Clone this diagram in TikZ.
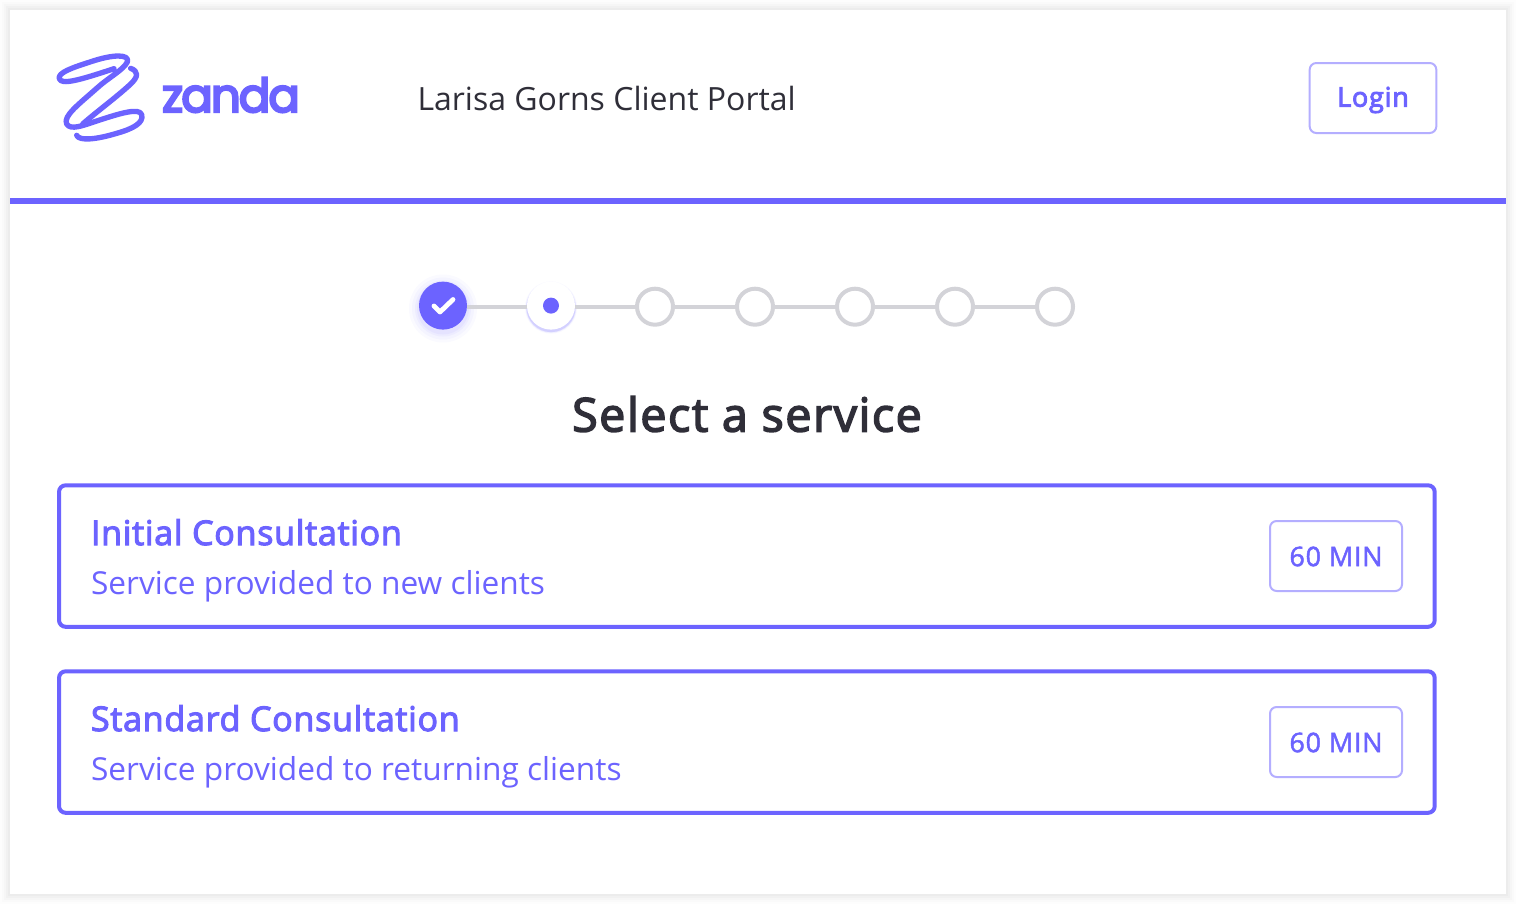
\documentclass[tikz,border=0pt]{standalone}
\usepackage{fontspec}
\setmainfont{Open Sans}
\newfontfamily\logof{Poppins}
\newcommand{\emb}[2]{\special{pdf:code q 2 Tr #1 w}#2\special{pdf:code Q}}
\usetikzlibrary{calc}
\definecolor{brand}{HTML}{6C63FF}
\definecolor{softb}{HTML}{B4AEFF}
\definecolor{ink}{HTML}{2F2E38}
\definecolor{track}{HTML}{D3D3D8}
\tikzset{
  x=0.75pt,y=-0.75pt,
  every node/.style={inner sep=0pt,outer sep=0pt},
  card/.style={draw=brand,line width=3pt,rounded corners=5pt,fill=white},
  badge/.style={draw=softb,line width=1.5pt,rounded corners=5pt,fill=white,text=brand},
  opendot/.style={circle,draw=track,line width=3pt,fill=white,minimum size=27pt},
  link/.style={draw=track,line width=3pt},
  logostroke/.style={draw=brand,line width=4pt,line cap=round,line join=round},
  cardhead/.style={anchor=base west,text=brand,font=\fontsize{25.5}{30}\selectfont\addfontfeature{LetterSpace=2.2}},
  cardsub/.style={anchor=base west,text=brand,font=\fontsize{23.73}{30}\selectfont},
  mins/.style={text=brand,font=\fontsize{20.2}{24}\selectfont},
}
\begin{document}
\begin{tikzpicture}
\useasboundingbox (0,0) rectangle (1516,904);
\fill[white] (0,0) rectangle (1516,904);
% page shadow
\foreach \o/\a in {10/.008,8/.01,6/.014,4/.018,2/.02}{
  \fill[black,opacity=\a] (10-\o,10-\o) rectangle (1506+\o,894+\o);
}
\fill[white] (10,10) rectangle (1506,894);
\fill[brand] (10,198) rectangle (1506,204);
% logo
\begin{scope}[shift={(40,40)},x=0.25pt,y=-0.25pt]
\draw[logostroke] (110,286) .. controls (118,304) and (170,298) .. (230,280)
  .. controls (280,266) and (312,248) .. (305,224)
  .. controls (298,202) and (240,220) .. (170,243)
  .. controls (130,256) and (92,272) .. (80,252)
  .. controls (68,228) and (120,190) .. (170,145)
  .. controls (205,113) and (250,90) .. (262,66)
  .. controls (270,42) and (220,42) .. (150,66)
  .. controls (100,82) and (52,98) .. (58,116)
  .. controls (64,136) and (120,120) .. (222,86);
\draw[logostroke] (272,85) .. controls (296,94) and (296,110) .. (270,134)
  .. controls (225,175) and (170,215) .. (128,252);
\end{scope}
\node[anchor=base west,text=brand] (logotext) at (162,112) {\logof\fontsize{35}{40}\selectfont\addfontfeature{LetterSpace=-4.2}\emb{1.7}{zanda}};
\node[anchor=base west,text=ink] (portal) at (417.5,110) {\fontsize{24}{30}\selectfont Larisa Gorns Client Portal};
\node[badge,minimum width=95pt,minimum height=52.5pt] (login) at (1373,98) {};
\node[text=brand] (logintext) at (1373,100) {\fontsize{20.2}{24}\selectfont\addfontfeature{LetterSpace=3}\emb{0.7}{Login}};
% stepper
\foreach \i/\x in {3/655,4/755,5/855,6/955,7/1055}{
  \node[opendot] (s\i) at (\x,306.7) {};
}
\foreach \o/\a in {10/.03,7/.04,4/.05,2/.06}{
  \fill[brand,opacity=\a] (443,308.5) circle[radius=24+\o];
}
\foreach \o/\a in {5/.05,3/.09,1.5/.18}{
  \fill[brand,opacity=\a] (551,307.5) circle[radius=24+\o*0.4];
}
\node[circle,fill=brand,minimum size=36pt] (s1) at (443,305.6) {};
\node[circle,fill=white,minimum size=36pt] (s2) at (551,305.6) {};
\node[circle,fill=brand,minimum size=12pt] (s2dot) at (551,305.6) {};
\coordinate (chka) at (434,306);
\coordinate (chkb) at (440,312);
\coordinate (chkc) at (453,299.5);
\draw[white,line width=3.6pt,line cap=round,line join=round] (chka) -- (chkb) -- (chkc);
\draw[link] (s1.east |- s3) -- (s2.west |- s3);
\draw[link] (s2.east |- s3) -- (s3);
\draw[link] (s3) -- (s4);
\draw[link] (s4) -- (s5);
\draw[link] (s5) -- (s6);
\draw[link] (s6) -- (s7);
\node[text=ink] (title) at (747,414) {\fontsize{35}{42}\selectfont\addfontfeature{LetterSpace=3.3}\emb{1.15}{Select a service}};
% cards
\draw[card] (59,485.3) rectangle (1434.7,626.8);
\node[cardhead] (h1) at (91,545) {\emb{0.8}{Initial Consultation}};
\node[cardsub] (d1) at (91,594) {Service provided to new clients};
\node[badge,minimum width=99pt,minimum height=52.5pt] (b1) at (1336,556) {};
\node[mins] (t1) at (1336,556.5) {\addfontfeature{LetterSpace=3}\emb{0.35}{60 MIN}};
\draw[card] (59,671.3) rectangle (1434.7,812.8);
\node[cardhead] (h2) at (91,731) {\emb{0.8}{Standard Consultation}};
\node[cardsub] (d2) at (91,780) {Service provided to returning clients};
\node[badge,minimum width=99pt,minimum height=52.5pt] (b2) at (1336,742) {};
\node[mins] (t2) at (1336,742.5) {\addfontfeature{LetterSpace=3}\emb{0.35}{60 MIN}};
\end{tikzpicture}
\end{document}
